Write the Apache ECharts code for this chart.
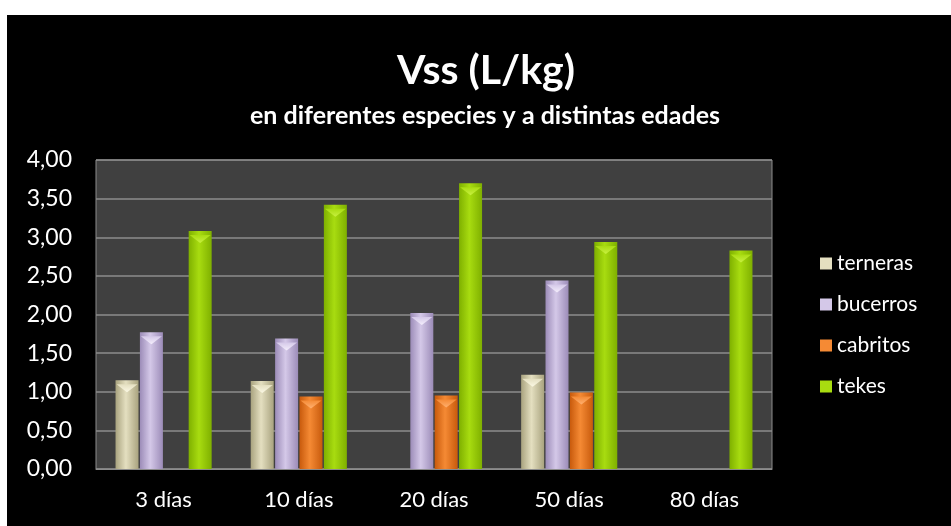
<!DOCTYPE html>
<html>
<head>
<meta charset="utf-8">
<script src="https://cdn.jsdelivr.net/npm/echarts@6/dist/echarts.min.js"></script>
<style>
  html, body { margin: 0; padding: 0; background: #ffffff; width: 951px; height: 526px; overflow: hidden; }
  #chart { position: absolute; left: 7px; top: 15px; width: 944px; height: 511px; background: #000000; }
</style>
</head>
<body>
<div id="chart"></div>
<script>
// Edades de muestreo
const categories = ['3 días', '10 días', '20 días', '50 días', '80 días'];

// Volumen de distribución en estado estacionario (L/kg) por especie
const terneras = [1.15, 1.14, null, 1.22, null];
const bucerros = [1.77, 1.69, 2.02, 2.44, null];
const cabritos = [null, 0.94, 0.95, 0.99, null];
const tekes    = [3.08, 3.42, 3.70, 2.94, 2.83];

const speciesNames = ['terneras', 'bucerros', 'cabritos', 'tekes'];
const speciesData = [terneras, bucerros, cabritos, tekes];
// [borde, centro, bisel superior]
const speciesColors = [
  ['#a9a37f', '#e4dfc0', '#fbf8e4'],
  ['#9c8cb8', '#d4c8e8', '#f4eefc'],
  ['#c85a0c', '#f58a34', '#ffb070'],
  ['#7fb000', '#a8dc10', '#c8f040']
];

const BAR_W = 23;
const BAR_GAP = '6%';

function barGradient(c) {
  return new echarts.graphic.LinearGradient(0, 0, 1, 0, [
    { offset: 0, color: c[0] },
    { offset: 0.45, color: c[1] },
    { offset: 1, color: c[0] }
  ]);
}

function bevelGradient(c) {
  return new echarts.graphic.LinearGradient(0, 0, 0, 1, [
    { offset: 0, color: c[2] },
    { offset: 1, color: c[1] }
  ]);
}

const chart = echarts.init(document.getElementById('chart'));
const fontFam = 'Lato, "Open Sans", sans-serif';

// Columnas principales
const barSeries = speciesNames.map((n, i) => ({
  name: n,
  type: 'bar',
  data: speciesData[i],
  barWidth: BAR_W,
  barGap: BAR_GAP,
  itemStyle: { color: barGradient(speciesColors[i]) }
}));

// Bisel triangular en el extremo superior de cada columna
const bevelSeries = speciesNames.map((n, i) => ({
  name: n + ' bisel',
  type: 'pictorialBar',
  data: speciesData[i],
  barWidth: BAR_W,
  barGap: BAR_GAP,
  symbol: 'triangle',
  symbolRotate: 180,
  symbolSize: [BAR_W - 2, 8],
  symbolPosition: 'end',
  symbolOffset: [0, '50%'],
  z: 3,
  silent: true,
  itemStyle: { color: bevelGradient(speciesColors[i]) }
}));

chart.setOption({
  backgroundColor: '#000000',
  animation: false,
  title: [
    { text: 'Vss (L/kg)', left: 474, top: 30, textAlign: 'center',
      textStyle: { color: '#ffffff', fontSize: 41, fontWeight: 'bold', fontFamily: fontFam } },
    { text: 'en diferentes especies y a distintas edades', left: 473, top: 83, textAlign: 'center',
      textStyle: { color: '#ffffff', fontSize: 25, fontWeight: 'bold', fontFamily: fontFam } }
  ],
  legend: {
    orient: 'vertical',
    left: 808,
    top: 233,
    itemGap: 20,
    itemWidth: 12,
    itemHeight: 12,
    icon: 'rect',
    textStyle: { color: '#ffffff', fontSize: 21, fontFamily: fontFam, padding: [0, 0, 0, 0] },
    data: speciesNames.map((n, i) => ({ name: n, itemStyle: { color: speciesColors[i][1] } }))
  },
  grid: {
    left: 89, right: 179, top: 145, bottom: 57,
    show: true, backgroundColor: '#404040', borderColor: '#8c8c8c', borderWidth: 1
  },
  xAxis: {
    type: 'category',
    data: categories,
    axisLine: { lineStyle: { color: '#8c8c8c' } },
    axisTick: { show: false },
    axisLabel: { color: '#ffffff', fontSize: 22, fontFamily: fontFam, margin: 20 }
  },
  yAxis: {
    type: 'value',
    min: 0, max: 4, interval: 0.5,
    axisLine: { show: false },
    axisTick: { show: false },
    splitLine: { lineStyle: { color: '#8c8c8c', width: 1.5 } },
    axisLabel: {
      color: '#ffffff', fontSize: 23, fontFamily: fontFam, margin: 24,
      formatter: v => v.toFixed(2).replace('.', ',')
    }
  },
  series: barSeries.concat(bevelSeries)
});
</script>
</body>
</html>
